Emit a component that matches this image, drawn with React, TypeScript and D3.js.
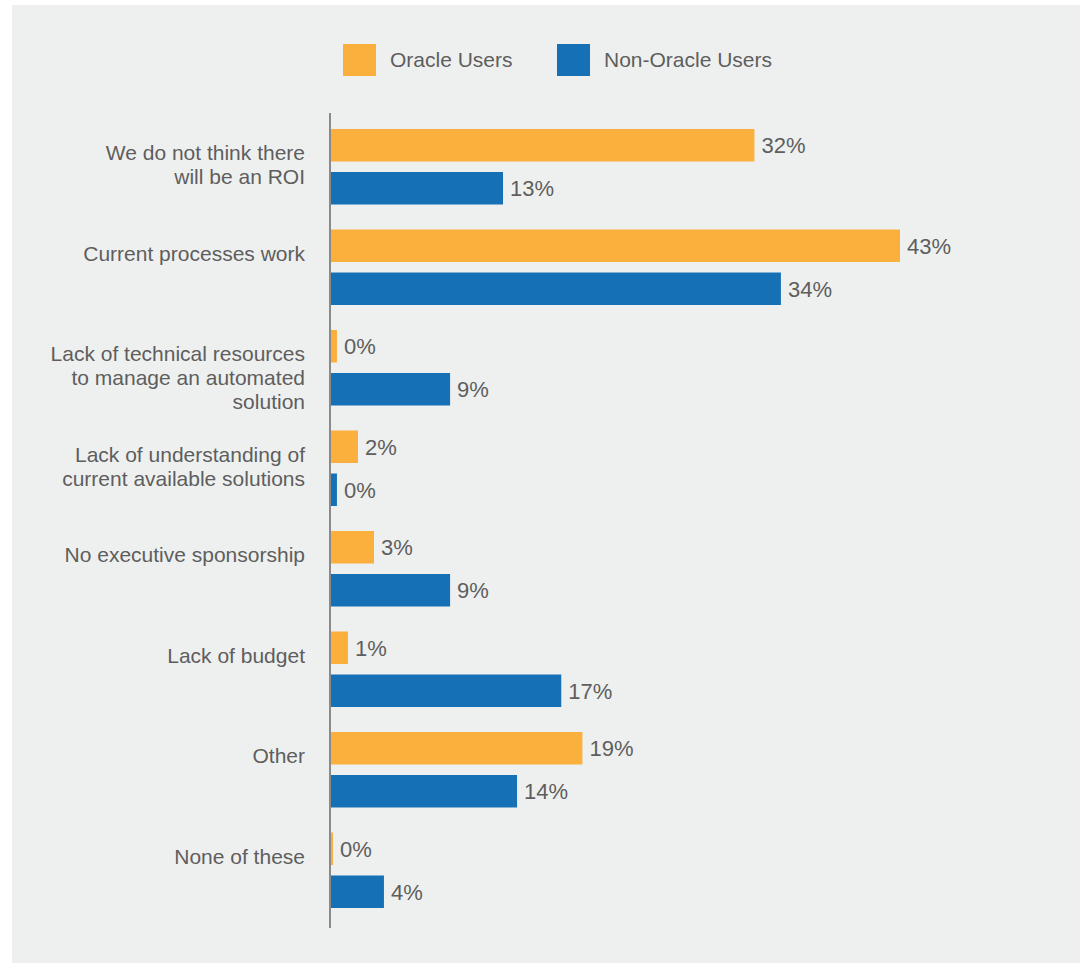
import React from "react";
import * as d3 from "d3";

const categories = [
  "We do not think there\nwill be an ROI",
  "Current processes work",
  "Lack of technical resources\nto manage an automated\nsolution",
  "Lack of understanding of\ncurrent available solutions",
  "No executive sponsorship",
  "Lack of budget",
  "Other",
  "None of these",
];
const seriesNames = ["Oracle Users", "Non-Oracle Users"];
const oracleValues = [32, 43, 0.45, 2.04, 3.25, 1.28, 19.0, 0.15];
const nonOracleValues = [13, 34, 9.0, 0.45, 9.0, 17.4, 14.06, 4.0];
const seriesColors = ["#fbaf3c", "#1570b5"];

const W = 1080;
const H = 963;
const FONT = "'Liberation Sans', Arial, Helvetica, sans-serif";
const TEXT = "#5e5e5e";

export default function App() {
  const x = d3.scaleLinear().domain([0, 43]).range([331, 900]);
  const y = d3
    .scaleBand<string>()
    .domain(categories)
    .range([129, 129 + 8 * 100.5])
    .paddingInner(0)
    .paddingOuter(0);
  const inner = d3
    .scaleBand<string>()
    .domain(seriesNames)
    .range([0, 75.5])
    .paddingInner(10.5 / 43)
    .paddingOuter(0);
  const values = [oracleValues, nonOracleValues];

  return (
    <svg
      width={W}
      height={H}
      style={{ position: "absolute", left: 0, top: 0 }}
      fontFamily={FONT}
    >
      <rect x={12} y={5} width={W - 12} height={H - 5} fill="#eef0ef" />
      {/* legend */}
      {seriesNames.map((s, i) => {
        const lx = i === 0 ? 343 : 557;
        return (
          <g key={s}>
            <rect x={lx} y={44} width={33} height={32} fill={seriesColors[i]} />
            <text x={lx + 47} y={67} fontSize={21} fill={TEXT}>
              {s}
            </text>
          </g>
        );
      })}
      {/* bars */}
      {categories.map((c, ci) => (
        <g key={c}>
          {seriesNames.map((s, si) => {
            const v = values[si][ci];
            const by = (y(c) as number) + (inner(s) as number);
            const bh = inner.bandwidth();
            return (
              <g key={s}>
                <rect
                  x={x(0)}
                  y={by}
                  width={x(v) - x(0)}
                  height={bh}
                  fill={seriesColors[si]}
                />
                <text
                  x={x(v) + 7}
                  y={by + bh / 2}
                  dy="0.36em"
                  fontSize={22}
                  fill={TEXT}
                >
                  {Math.round(v)}%
                </text>
              </g>
            );
          })}
          <text x={305} y={(y(c) as number) + 31} fontSize={21} fill={TEXT} textAnchor="end">
            {c.split("\n").map((line, li) => (
              <tspan key={li} x={305} dy={li === 0 ? 0 : 24}>
                {line}
              </tspan>
            ))}
          </text>
        </g>
      ))}
      {/* axis line */}
      <line x1={330} x2={330} y1={113} y2={928} stroke="#8a8a8a" strokeWidth={2} />
    </svg>
  );
}
